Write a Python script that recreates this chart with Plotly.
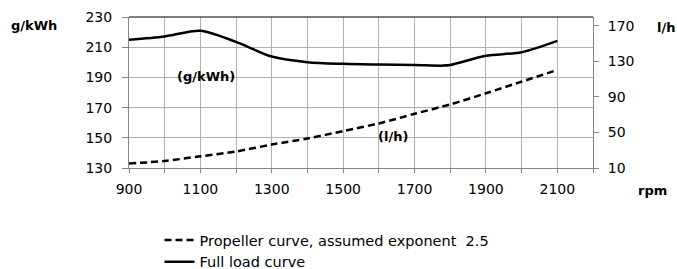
import plotly.graph_objects as go

rpm_full = [900, 1000, 1100, 1200, 1300, 1400, 1500, 1600, 1700, 1780, 1800, 1900, 2000, 2100]
full_load_gkwh = [214.9, 217.1, 220.9, 213.5, 203.8, 200.1, 199.0, 198.5, 198.2, 197.8, 198.2, 204.3, 206.7, 214.2]

rpm_prop = [900, 1000, 1100, 1200, 1300, 1400, 1500, 1600, 1700, 1800, 1900, 2000, 2100]
propeller_lh = [15.0, 17.9, 23.2, 28.6, 36.4, 43.2, 51.6, 60.2, 71.0, 81.6, 94.1, 107.2, 120.4]

x_ticks = [900, 1100, 1300, 1500, 1700, 1900, 2100]
left_ticks = [130, 150, 170, 190, 210, 230]
right_ticks = [10, 50, 90, 130, 170]

FONT = "DejaVu Sans, Liberation Sans, Arial, sans-serif"

W, H = 677, 269
L, R, T, B = 129, 84, 17, 101
PW, PH = W - L - R, H - T - B

fig = go.Figure()
fig.add_trace(go.Scatter(
    x=rpm_prop, y=propeller_lh, yaxis="y2", mode="lines",
    line=dict(color="black", width=2.5, dash="7px,4px", shape="spline", smoothing=0.8),
    name="Propeller curve, assumed exponent  2.5"))
fig.add_trace(go.Scatter(
    x=rpm_full, y=full_load_gkwh, mode="lines",
    line=dict(color="black", width=2.5, shape="spline", smoothing=0.8),
    name="Full load curve"))

grid = "#b0b0b0"
axc = "#868686"
fig.update_layout(
    width=W, height=H,
    margin=dict(l=L, r=R, t=T, b=B, autoexpand=False),
    paper_bgcolor="white", plot_bgcolor="white",
    font=dict(family=FONT, size=14, color="black"),
    xaxis=dict(range=[900, 2200], tickvals=x_ticks, ticks="outside", ticklen=4,
               tickcolor=axc, showgrid=True, gridcolor=grid, gridwidth=1,
               minor=dict(dtick=100, tick0=900, ticks="outside", ticklen=4, tickcolor=axc,
                          showgrid=True, gridcolor=grid, gridwidth=1),
               showline=True, linecolor=axc, linewidth=1, zeroline=False,
               tickfont=dict(size=14), ticklabelstandoff=4),
    yaxis=dict(range=[130, 230], tickvals=left_ticks, ticks="outside", ticklen=6,
               tickcolor=axc, showgrid=True, gridcolor=grid, gridwidth=1,
               showline=True, linecolor=axc, linewidth=1, zeroline=False,
               tickfont=dict(size=14), ticklabelstandoff=7),
    yaxis2=dict(range=[10, 180], tickvals=right_ticks, overlaying="y", side="right",
                ticks="outside", ticklen=5, tickcolor=axc, showgrid=False,
                showline=True, linecolor=axc, linewidth=1, zeroline=False,
                tickfont=dict(size=14), ticklabelstandoff=6),
    showlegend=True,
    legend=dict(x=(159.5 - L) / PW, y=(T + PH - 224) / PH, xanchor="left", yanchor="top",
                bgcolor="rgba(0,0,0,0)", font=dict(size=14.5), tracegroupgap=0,
                itemwidth=30),
)

fig.add_shape(type="line", xref="x domain", yref="y domain", x0=0, x1=1, y0=1, y1=1,
              line=dict(color="black", width=1))


def px(xp):
    return (xp - L) / PW


def py(yp):
    return (T + PH - yp) / PH


ann = [
    dict(text="<b>g/kWh</b>", x=34, y=26),
    dict(text="<b>l/h</b>", x=666, y=27),
    dict(text="<b>rpm</b>", x=652, y=190),
]
for a in ann:
    fig.add_annotation(text=a["text"], xref="paper", yref="paper",
                       x=px(a["x"]), y=py(a["y"]),
                       showarrow=False, xanchor="center", yanchor="middle",
                       font=dict(size=13, family=FONT))
fig.add_annotation(text="<b>(g/kWh)</b>", x=1115, y=190.5, xref="x", yref="y",
                   showarrow=False, font=dict(size=13, family=FONT))
fig.add_annotation(text="<b>(l/h)</b>", x=1640, y=151, xref="x", yref="y",
                   showarrow=False, font=dict(size=13, family=FONT))

fig.write_html("out.html", config={"displayModeBar": False},
               post_script="document.body.style.margin='0';document.body.style.overflow='hidden';")
